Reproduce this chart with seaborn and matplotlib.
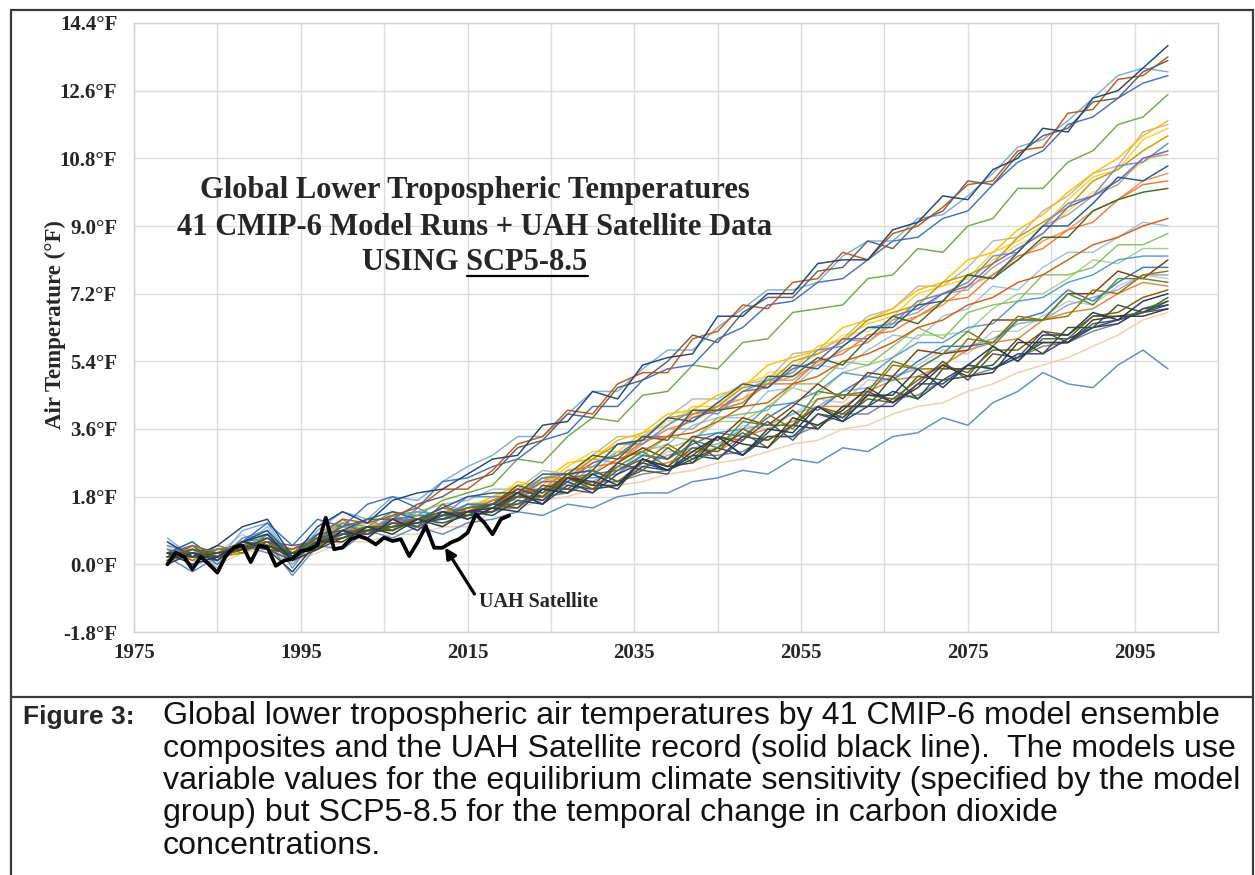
import matplotlib
matplotlib.use("Agg")
import matplotlib.pyplot as plt
import seaborn as sns
import pandas as pd
from matplotlib.lines import Line2D
from matplotlib.ticker import FixedLocator

# ---------------- data ----------------
years = list(range(1979, 2100, 3))  # model values every 3 years (1979 ... 2099)

# lighter / background runs
r07 = [0.1,0.2,0.0,0.3,0.4,0.1,0.3,0.6,0.6,0.8,0.8,1.0,1.0, 1.4,1.5,1.7,1.8,2.0,2.1,2.2,2.4,2.5,2.7,2.8,3.0,3.2,3.3,3.6,3.7,4.0,4.2,4.3,4.6,4.8,5.1,5.3,5.5,5.8,6.1,6.5,6.7]
q04 = [0.5,-0.1,0.3,0.8,0.4,0.0,0.6,1.1,0.7,1.4,0.9,1.5,1.3, 1.6,1.6,1.9,2.0,2.1,2.6,2.5,3.0,3.0,3.1,3.7,3.6,4.0,4.4,4.3,4.9,4.9,5.3,5.7,5.6,6.2,6.2,6.6,7.0,6.9,7.4,7.7,7.6]
o02 = [0.6,0.1,0.0,0.5,1.0,0.1,0.4,1.2,0.7,1.3,1.4,1.0,1.6, 1.7,1.7,2.2,2.2,2.4,3.0,3.0,3.2,3.7,3.9,3.9,4.6,4.7,5.3,5.2,5.7,6.1,6.0,6.6,6.8,7.4,7.3,7.9,8.3,8.3,8.7,9.1,9.0]
p02 = [0.3,0.2,0.3,0.6,0.5,0.3,0.5,0.9,0.8,1.1,1.1,1.3,1.5, 1.6,2.0,1.9,2.3,2.4,2.4,3.1,3.1,3.3,3.8,3.8,4.2,4.7,4.5,5.1,5.3,5.5,6.1,6.1,6.2,6.8,7.2,7.2,7.6,8.1,8.0,8.4,8.4]
m07 = [0.2,0.3,0.2,0.3,0.5,0.3,0.4,0.8,0.9,0.9,1.1,1.3,1.4, 1.6,1.9,2.3,2.4,2.8,2.9,3.4,3.8,3.9,4.3,4.4,5.1,5.2,5.6,6.1,6.2,6.5,7.0,7.2,7.5,8.1,8.5,8.8,9.4,9.9,10.2,10.7,11.0]
q03 = [0.2,0.3,0.3,0.5,0.6,0.3,0.6,0.7,1.0,1.0,1.2,1.3,1.4, 1.5,1.8,1.8,2.1,2.2,2.6,2.6,2.9,3.1,3.2,3.6,3.7,4.0,4.2,4.6,4.7,5.0,5.2,5.6,5.8,6.0,6.4,6.5,6.9,7.1,7.3,7.7,7.7]
m04 = [0.4,0.3,0.2,0.6,0.8,0.3,0.7,0.9,1.1,1.0,1.4,1.6,1.7, 2.0,2.0,2.5,2.4,2.9,3.4,3.4,3.9,4.4,4.4,4.8,4.9,5.6,5.7,6.0,6.6,6.8,7.4,7.4,7.9,8.6,8.7,9.4,9.8,10.4,10.6,11.5,11.7]
m08 = [0.3,0.4,-0.1,0.7,0.8,0.0,0.7,1.0,0.9,1.3,1.0,1.6,1.4, 1.5,2.0,1.9,2.3,2.8,2.7,3.2,3.6,3.6,4.1,4.3,4.9,4.9,5.4,6.0,5.9,6.5,6.7,7.2,7.3,7.9,8.3,9.0,9.3,9.8,10.1,10.8,10.9]
n04 = [0.2,0.3,0.2,0.4,0.5,0.3,0.6,0.8,0.9,1.1,1.1,1.3,1.5, 1.7,1.9,2.2,2.3,2.7,2.9,3.2,3.6,3.8,4.2,4.4,4.8,5.0,5.3,5.7,5.9,6.4,6.6,6.9,7.4,7.7,8.1,8.6,8.9,9.4,9.7,10.2,10.4]
p01 = [0.1,0.3,0.2,0.4,0.6,0.2,0.6,0.7,0.9,1.0,1.2,1.3,1.4, 1.7,1.8,2.3,2.1,2.6,3.0,2.9,3.4,3.3,3.9,4.0,4.1,4.8,4.8,5.4,5.3,5.8,6.3,6.0,6.7,6.9,7.0,7.7,7.7,7.9,8.5,8.5,8.8]
s01 = [0.2,-0.2,0.2,0.3,0.6,-0.3,0.5,0.4,0.9,0.7,1.0,0.8,1.1, 1.2,1.4,1.3,1.6,1.5,1.8,1.9,1.9,2.2,2.3,2.5,2.4,2.8,2.7,3.1,3.0,3.4,3.5,3.9,3.7,4.3,4.6,5.1,4.8,4.7,5.3,5.7,5.2]
a03 = [0.7,0.2,0.1,0.9,1.1,0.1,0.9,1.4,1.2,1.8,1.7,2.2,2.6, 2.9,3.4,3.4,4.0,4.6,4.6,5.2,5.7,5.7,6.3,6.8,7.3,7.3,7.5,8.2,8.6,8.6,9.2,9.3,9.8,10.4,11.1,11.3,11.8,12.4,13.0,13.2,13.1]
m02 = [0.3,0.2,0.3,0.5,0.5,0.1,0.5,0.9,0.8,1.0,1.3,1.2,1.6, 1.7,2.2,2.1,2.6,3.0,3.0,3.5,3.7,4.2,4.2,4.8,5.0,5.2,5.8,6.0,6.4,6.6,7.2,7.4,7.6,8.3,8.6,9.0,9.7,10.3,10.5,11.3,11.6]
m01 = [0.2,0.3,0.1,0.4,0.6,0.2,0.6,0.8,1.0,1.1,1.2,1.4,1.5, 1.8,2.1,2.2,2.7,2.8,3.3,3.5,4.0,4.1,4.5,4.7,5.3,5.5,5.7,6.3,6.5,6.8,7.3,7.5,8.1,8.3,8.9,9.3,9.9,10.4,10.8,11.4,11.8]
m03 = [0.1,0.4,0.2,0.3,0.7,0.3,0.5,0.7,0.9,1.2,1.1,1.3,1.4, 1.6,1.9,2.3,2.3,2.8,3.2,3.3,3.9,4.0,4.2,4.7,4.8,5.4,5.6,5.9,6.5,6.7,6.9,7.5,7.7,8.0,8.7,9.1,9.5,10.2,10.5,11.0,11.4]
m06 = [0.5,0.3,0.4,0.5,0.3,0.4,0.8,1.2,0.8,1.3,1.4,1.3,1.8, 1.8,1.8,2.3,2.4,2.5,3.2,3.2,3.7,4.1,4.0,4.6,4.9,5.1,5.7,5.8,6.3,6.4,7.0,7.2,7.5,8.2,8.3,9.0,9.6,9.8,10.6,10.7,11.2]
m05 = [0.2,0.2,0.4,0.4,0.6,0.4,0.6,0.8,0.9,1.2,1.2,1.5,1.4, 1.7,1.8,2.2,2.2,2.7,2.9,3.4,3.4,3.9,4.1,4.6,4.7,5.2,5.4,6.0,6.0,6.6,6.8,7.2,7.4,8.0,8.4,8.8,9.5,9.8,10.2,10.8,11.0]
n02 = [0.1,0.3,0.3,0.4,0.5,0.3,0.5,0.9,0.8,1.0,1.2,1.4,1.4, 1.7,2.0,2.0,2.5,2.6,2.7,3.3,3.4,4.0,4.1,4.3,4.8,4.8,5.4,5.6,6.1,6.2,6.6,7.0,7.1,7.7,8.2,8.4,8.9,9.1,9.7,10.1,10.2]
o01 = [0.2,0.2,0.3,0.4,0.6,0.2,0.5,0.8,0.9,1.0,1.2,1.2,1.5, 1.6,1.9,2.0,2.3,2.4,2.8,3.0,3.4,3.5,3.8,4.2,4.3,4.8,5.0,5.4,5.6,5.9,6.3,6.5,6.9,7.1,7.5,7.7,8.1,8.5,8.7,9.0,9.2]
p03 = [0.0,0.5,0.1,0.7,0.9,-0.1,0.8,0.8,1.2,0.9,1.5,1.2,1.6, 1.5,1.8,1.8,2.3,2.3,2.4,2.9,2.8,3.4,3.5,3.6,4.2,4.3,4.6,5.1,5.0,5.5,5.9,5.9,6.3,6.4,7.0,7.1,7.5,7.7,8.1,8.2,8.2]
q07 = [0.2,0.4,0.2,0.6,0.7,0.3,0.7,0.9,0.9,1.2,1.3,1.3,1.6, 1.6,1.8,2.0,1.9,2.4,2.5,2.9,2.8,3.2,3.5,3.4,3.9,4.3,4.1,4.6,5.0,4.9,5.4,5.8,5.8,5.9,6.5,6.7,7.3,7.0,7.5,7.9,7.9]
q06 = [0.3,0.2,0.3,0.5,0.5,0.2,0.6,0.9,1.0,1.1,1.1,1.4,1.4, 1.5,1.6,1.8,1.9,2.2,2.2,2.6,2.7,3.0,3.0,3.4,3.6,3.8,4.2,4.2,4.6,4.9,5.0,5.3,5.7,5.9,6.0,6.5,6.7,6.8,7.2,7.5,7.4]
q01 = [0.2,0.3,0.2,0.5,0.4,0.3,0.6,0.8,0.8,1.1,1.2,1.2,1.4, 1.6,2.0,1.8,2.4,2.1,2.7,3.1,2.8,3.4,3.3,3.9,3.7,4.2,4.8,4.4,5.1,5.0,5.7,5.6,5.7,6.5,6.5,6.5,7.2,7.2,7.8,7.6,8.1]
q02 = [0.4,0.1,0.5,0.3,0.8,0.3,0.4,1.1,0.8,1.2,1.0,1.6,1.2, 1.5,1.5,2.0,1.9,2.5,2.2,2.7,3.2,2.8,3.4,3.3,4.0,3.6,4.4,4.5,4.5,5.3,5.2,5.2,6.0,5.9,6.6,6.5,6.6,7.3,7.2,7.7,7.8]
q05 = [0.1,0.3,0.2,0.4,0.6,0.3,0.6,0.8,0.8,1.0,1.2,1.2,1.3, 1.4,1.9,1.7,2.3,2.0,2.6,3.0,2.6,3.3,3.1,3.8,3.7,3.7,4.6,4.5,4.6,5.4,5.2,5.6,6.2,5.8,6.5,6.5,7.2,6.9,7.6,7.6,7.5]
g01 = [0.2,0.5,0.3,0.4,0.8,0.3,0.7,1.1,1.0,1.4,1.3,1.7,1.9, 2.1,2.8,2.7,3.4,3.9,3.8,4.5,4.6,5.3,5.2,5.9,6.0,6.7,6.8,6.9,7.6,7.7,8.4,8.3,9.0,9.2,10.0,10.0,10.7,11.0,11.7,11.9,12.5]
n01 = [0.3,0.6,0.1,0.6,0.9,0.2,0.8,0.9,1.2,1.4,1.2,1.5,1.8, 1.9,1.9,2.4,2.4,2.5,3.2,3.3,3.9,3.8,4.3,4.8,4.7,5.3,5.2,5.8,6.3,6.3,6.9,7.0,7.7,7.6,8.3,9.0,9.0,9.6,10.3,10.2,10.6]
n03 = [0.3,0.2,0.4,0.5,0.6,0.1,0.6,0.8,1.0,0.9,1.2,1.4,1.3, 1.6,2.1,1.9,2.4,2.9,2.8,3.4,3.3,4.1,4.1,4.2,5.0,5.0,5.5,5.3,6.0,6.6,6.4,7.0,7.7,7.6,8.1,8.7,8.7,9.4,9.7,9.9,10.0]
a04 = [0.3,0.5,0.0,0.6,1.1,0.5,1.2,1.0,1.6,1.8,1.5,2.2,2.3, 2.6,2.8,3.3,3.5,4.2,4.2,4.9,5.2,5.3,6.0,6.3,6.9,7.0,7.5,7.6,8.1,8.6,8.7,9.2,9.4,10.1,10.7,11.0,11.7,11.9,12.4,12.8,13.0]
a02 = [0.2,0.5,0.3,0.6,0.5,0.4,0.7,1.2,1.1,1.3,1.5,2.0,2.0, 2.5,3.2,3.4,4.1,4.0,4.8,5.1,5.1,6.0,6.2,6.9,6.8,7.5,7.6,8.3,8.1,8.8,9.0,9.5,10.1,10.2,11.0,11.1,12.0,12.1,12.9,13.0,13.5]
a05 = [0.1,0.3,0.4,0.4,0.6,0.5,0.6,1.0,1.2,1.2,1.6,1.8,2.2, 2.4,3.1,3.3,4.0,3.9,4.7,4.9,5.4,6.1,5.9,6.7,7.1,7.1,7.8,7.9,8.6,8.4,9.1,9.4,10.2,10.1,10.9,11.4,11.6,12.3,12.4,13.1,13.4]
a01 = [0.6,0.2,0.5,1.0,1.2,0.2,1.0,1.4,1.1,1.7,1.9,2.0,2.4, 2.8,2.9,3.7,3.8,4.6,4.4,5.3,5.5,5.6,6.6,6.6,7.2,7.2,8.0,8.1,8.1,8.9,9.1,9.8,9.7,10.5,10.8,11.6,11.5,12.4,12.6,13.2,13.8]
# darker, strongly zig-zagging runs of the lower bundle
r06 = [0.2,0.3,0.4,0.5,0.6,0.2,0.5,0.8,0.9,1.1,1.2,1.2,1.3, 1.4,1.6,1.8,1.9,2.2,2.2,2.4,2.5,2.9,2.9,3.0,3.4,3.4,3.7,4.0,4.0,4.4,4.5,4.9,5.0,5.2,5.5,5.8,5.9,6.2,6.4,6.8,7.0]
r08 = [0.3,0.3,0.2,0.4,0.7,0.2,0.6,0.8,0.9,1.0,1.1,1.3,1.4, 1.4,1.8,1.7,2.2,1.9,2.4,2.7,2.5,2.9,2.8,3.4,3.3,3.7,3.6,4.2,4.2,4.2,4.8,4.8,5.3,5.2,5.6,5.6,6.0,6.3,6.4,6.8,6.9]
r05 = [0.3,0.2,0.2,0.6,0.5,0.2,0.6,0.7,1.0,1.0,1.1,1.2,1.4, 1.3,1.7,1.6,2.1,2.0,2.1,2.6,2.5,2.8,3.1,2.9,3.4,3.4,4.0,3.8,4.2,4.6,4.4,4.9,5.3,5.2,5.5,5.9,5.9,6.3,6.5,6.7,6.9]
r04 = [0.1,0.4,0.2,0.4,0.6,0.3,0.5,0.9,0.8,1.0,1.2,1.3,1.3, 1.4,1.8,1.8,2.3,2.0,2.5,2.8,2.6,3.1,3.0,3.6,3.3,3.7,4.2,4.0,4.5,4.4,4.9,5.3,5.1,5.7,5.7,6.2,6.1,6.6,6.7,7.1,7.3]
r09 = [0.2,0.4,0.3,0.5,0.5,0.3,0.7,0.8,1.0,1.0,1.2,1.3,1.5, 1.6,1.6,2.0,2.0,2.5,2.2,2.5,3.1,2.7,3.1,3.5,3.1,3.7,4.2,3.9,4.4,4.3,5.0,4.9,5.0,5.8,5.4,6.0,6.0,6.6,6.6,6.7,7.1]
r02 = [0.3,0.2,0.3,0.4,0.5,0.3,0.4,0.7,0.9,0.9,1.2,1.1,1.3, 1.4,1.9,1.6,2.3,2.1,2.1,2.8,2.5,2.9,3.4,2.9,3.5,4.1,3.6,4.2,4.2,5.0,4.4,5.2,5.2,5.3,6.0,5.6,6.3,6.3,6.9,6.7,7.0]
r03 = [0.2,0.3,0.2,0.5,0.4,0.1,0.6,0.8,0.8,1.1,1.0,1.3,1.4, 1.6,1.5,2.1,2.0,1.9,2.7,2.5,2.4,3.3,2.8,3.3,3.8,3.3,4.0,3.9,4.6,4.3,4.8,5.4,4.9,5.6,5.5,6.2,5.9,6.4,6.5,6.7,6.8]
r01 = [0.3,0.0,0.2,0.6,0.8,0.1,0.4,0.9,0.7,1.2,0.9,1.4,1.2, 1.5,1.4,2.0,1.9,2.4,2.1,2.8,2.5,3.0,3.4,2.9,3.6,3.5,4.2,3.8,4.5,4.5,5.2,4.7,5.3,5.8,5.4,6.1,6.1,6.7,6.5,7.0,7.2]
r10 = [0.0,0.3,0.1,0.6,0.4,-0.2,0.6,0.6,1.0,0.8,1.2,1.0,1.4, 1.5,1.9,1.6,2.3,2.2,2.0,2.8,2.6,2.7,3.4,3.2,3.1,3.9,3.7,4.1,4.7,4.3,4.7,5.3,5.0,5.1,5.9,5.9,5.9,6.5,6.6,6.6,6.8]

model_runs = [r07, q04, o02, p02, m07, q03, m04, m08, n04, p01, s01, a03, m02, m01,
              m03, m06, m05, n02, o01, p03, q07, q06, q01, q02, q05, g01, n01, n03,
              a04, a02, a05, a01, r06, r08, r05, r04, r09, r02, r03, r01, r10]
run_colors = ["#F8CBAD", "#C9C9C9", "#9DC3E6", "#A9D18E", "#FFD966", "#8FAADC", "#B7B7B7",
              "#A5A5A5", "#F1975A", "#8CC168", "#5B8FC9", "#7CAFDD", "#FFCD33", "#FFC000",
              "#CC9A00", "#698ED0", "#7B68B0", "#ED7D31", "#D26012", "#5B9BD5", "#327DC2",
              "#E2873F", "#843C0C", "#997300", "#5A8A39", "#70AD47", "#255E91", "#43682B",
              "#4472C4", "#C55A11", "#636363", "#264478", "#848484", "#3B3B8F", "#1F4E79",
              "#7F6000", "#4E6B2E", "#385723", "#525252", "#203864", "#3A3A3A"]

uah_years = list(range(1979, 2021))
uah = [0.0, 0.31, 0.2, -0.13, 0.2, 0.0, -0.22, 0.22, 0.45, 0.5, 0.06, 0.5, 0.45, -0.04,
       0.1, 0.15, 0.35, 0.4, 0.5, 1.24, 0.4, 0.45, 0.67, 0.75, 0.67, 0.53, 0.71, 0.62,
       0.67, 0.22, 0.58, 1.02, 0.44, 0.44, 0.58, 0.67, 0.84, 1.33, 1.11, 0.8, 1.2, 1.3]

y_ticks = [-1.8, 0.0, 1.8, 3.6, 5.4, 7.2, 9.0, 10.8, 12.6, 14.4]
y_tick_labels = ["-1.8°F", "0.0°F", "1.8°F", "3.6°F", "5.4°F", "7.2°F", "9.0°F", "10.8°F", "12.6°F", "14.4°F"]
x_ticks = [1975, 1995, 2015, 2035, 2055, 2075, 2095]
x_tick_labels = ["1975", "1995", "2015", "2035", "2055", "2075", "2095"]
x_minor = [1985, 2005, 2025, 2045, 2065, 2085, 2105]

title_lines = ["Global Lower Tropospheric Temperatures",
               "41 CMIP-6 Model Runs + UAH Satellite Data",
               "USING SCP5-8.5"]
underlined_part = "SCP5-8.5"
y_label = "Air Temperature (°F)"
arrow_label = "UAH Satellite"
caption_head = "Figure 3:"
caption_lines = ["Global lower tropospheric air temperatures by 41 CMIP-6 model ensemble",
                 "composites and the UAH Satellite record (solid black line).  The models use",
                 "variable values for the equilibrium climate sensitivity (specified by the model",
                 "group) but SCP5-8.5 for the temporal change in carbon dioxide",
                 "concentrations."]

# ---------------- figure ----------------
sns.set_style("white")
plt.rcParams["font.family"] = ["Liberation Serif", "DejaVu Serif"]

W, H = 1255, 875
fig = plt.figure(figsize=(W / 100, H / 100), dpi=100)
fig.patch.set_facecolor("white")

def fx(px):
    return px / W

def fy(py):
    return 1 - py / H

ax = fig.add_axes([fx(134), fy(632), fx(1218) - fx(134), fy(23) - fy(632)])

names = [f"run{i + 1:02d}" for i in range(len(model_runs))]
rows = []
for name, vals in zip(names, model_runs):
    for yr, v in zip(years, vals):
        rows.append((name, yr, v))
df = pd.DataFrame(rows, columns=["run", "year", "temp"])

sns.lineplot(data=df, x="year", y="temp", hue="run", hue_order=names,
             palette=dict(zip(names, run_colors)), estimator=None, linewidth=1.05,
             legend=False, ax=ax)
sns.lineplot(x=uah_years, y=uah, color="black", linewidth=2.7, ax=ax, zorder=5)

ax.set_xlim(1975, 2105)
ax.set_ylim(-1.8, 14.4)
ax.set_xlabel("")
ax.set_ylabel("")
ax.xaxis.set_major_locator(FixedLocator(x_ticks))
ax.xaxis.set_minor_locator(FixedLocator(x_minor))
ax.set_xticklabels(x_tick_labels, fontsize=15, fontweight="bold")
ax.set_yticks(y_ticks)
ax.set_yticklabels(y_tick_labels, fontsize=15, fontweight="bold")
ax.tick_params(axis="both", which="both", length=0)
ax.tick_params(axis="y", pad=12)
ax.tick_params(axis="x", pad=8)
ax.grid(True, which="both", axis="x", color="#DCDCDC", linewidth=1.0)
ax.grid(True, which="major", axis="y", color="#DCDCDC", linewidth=1.0)
ax.set_axisbelow(True)
for sp in ax.spines.values():
    sp.set_color("#D0D0D0")
    sp.set_linewidth(1.0)

# annotation for the satellite record
ax.annotate(arrow_label, xy=(2012.3, 0.45), xytext=(2016.4, -0.99),
            fontsize=14.5, fontweight="bold", va="center", ha="left",
            arrowprops=dict(arrowstyle="-|>", color="black", lw=2.3,
                            mutation_scale=16, shrinkA=2, shrinkB=0,
                            relpos=(0.0, 0.5)))

# title block
title_base = [198, 235, 270]
title_objs = []
for txt, yb in zip(title_lines, title_base):
    t = fig.text(fx(475), fy(yb), txt, ha="center", va="baseline",
                 fontsize=22, fontweight="bold")
    title_objs.append(t)

# y label
fig.text(fx(55), fy(325), y_label, rotation=90, ha="center", va="center",
         fontsize=16.5, fontweight="bold")

# caption
cap_base = [724, 756.5, 789, 821.5, 854]
fig.text(fx(23), fy(cap_base[0]), caption_head, ha="left", va="baseline",
         fontsize=19, fontweight="bold", family=["Liberation Sans", "DejaVu Sans"])
for txt, yb in zip(caption_lines, cap_base):
    fig.text(fx(163), fy(yb), txt, ha="left", va="baseline", fontsize=23.1,
             family=["Liberation Sans", "DejaVu Sans"], color="#111111")

# frame of the figure + separator
frame_kw = dict(color="#3A3A3A", linewidth=1.6, transform=fig.transFigure)
fig.add_artist(Line2D([fx(11), fx(11)], [fy(10), 0], **frame_kw))
fig.add_artist(Line2D([fx(1253), fx(1253)], [fy(10), 0], **frame_kw))
fig.add_artist(Line2D([fx(11), fx(1253)], [fy(10), fy(10)], **frame_kw))
fig.add_artist(Line2D([fx(11), fx(1253)], [fy(697), fy(697)], **frame_kw))

# underline of the scenario name
fig.canvas.draw()
r = fig.canvas.get_renderer()
bb = title_objs[2].get_window_extent(r)
tmp = fig.text(0, 0, underlined_part, fontsize=22, fontweight="bold")
w = tmp.get_window_extent(r).width
tmp.remove()
fig.add_artist(Line2D([(bb.x1 - w) / W, bb.x1 / W], [fy(276), fy(276)],
                      color="black", linewidth=1.6, transform=fig.transFigure))

fig.savefig("out.png", dpi=100, facecolor="white")
